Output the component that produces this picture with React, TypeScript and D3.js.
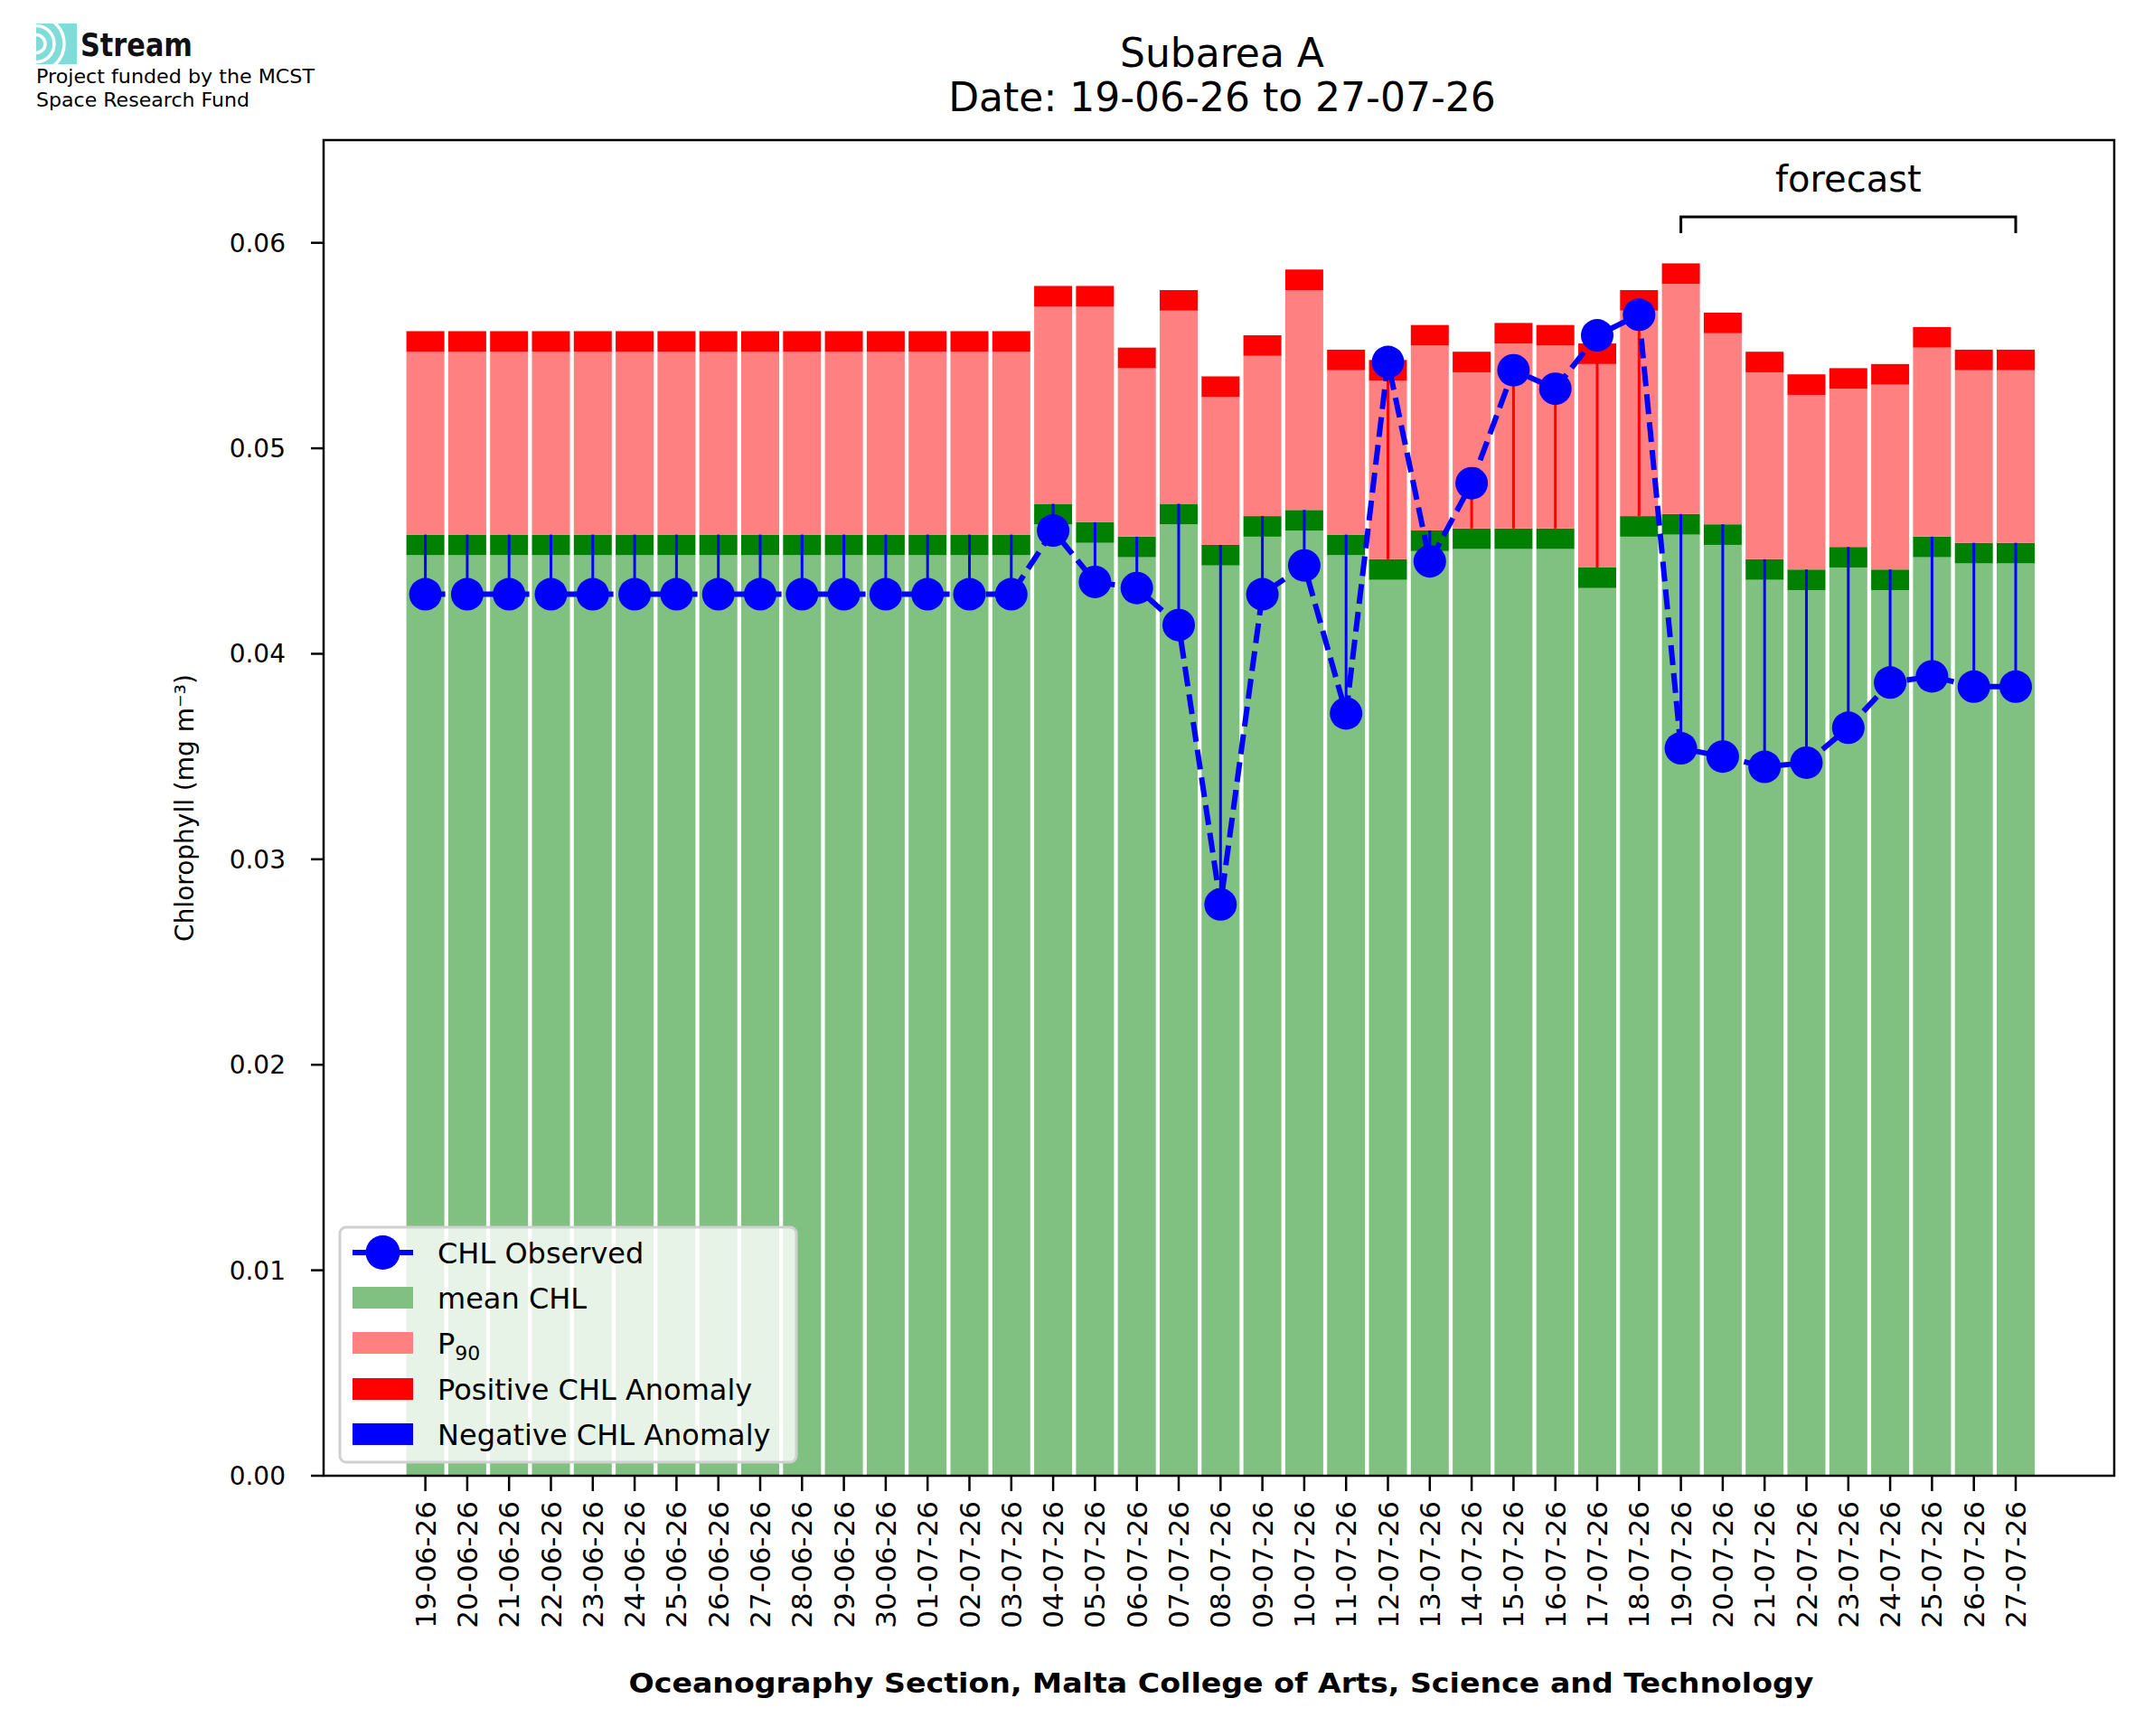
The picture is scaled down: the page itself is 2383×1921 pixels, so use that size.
import React from "react";
import * as d3 from "d3";

const dates = ["19-06-26","20-06-26","21-06-26","22-06-26","23-06-26","24-06-26","25-06-26","26-06-26","27-06-26","28-06-26","29-06-26","30-06-26","01-07-26","02-07-26","03-07-26","04-07-26","05-07-26","06-07-26","07-07-26","08-07-26","09-07-26","10-07-26","11-07-26","12-07-26","13-07-26","14-07-26","15-07-26","16-07-26","17-07-26","18-07-26","19-07-26","20-07-26","21-07-26","22-07-26","23-07-26","24-07-26","25-07-26","26-07-26","27-07-26"];
const meanChl = [0.0458,0.0458,0.0458,0.0458,0.0458,0.0458,0.0458,0.0458,0.0458,0.0458,0.0458,0.0458,0.0458,0.0458,0.0458,0.0473,0.0464,0.0457,0.0473,0.0453,0.0467,0.0470,0.0458,0.0446,0.0460,0.0461,0.0461,0.0461,0.0442,0.0467,0.0468,0.0463,0.0446,0.0441,0.0452,0.0441,0.0457,0.0454,0.0454];
const p90 = [0.0557,0.0557,0.0557,0.0557,0.0557,0.0557,0.0557,0.0557,0.0557,0.0557,0.0557,0.0557,0.0557,0.0557,0.0557,0.0579,0.0579,0.0549,0.0577,0.0535,0.0555,0.0587,0.0548,0.0543,0.0560,0.0547,0.0561,0.0560,0.0551,0.0577,0.0590,0.0566,0.0547,0.0536,0.0539,0.0541,0.0559,0.0548,0.0548];
const observed = [0.0429,0.0429,0.0429,0.0429,0.0429,0.0429,0.0429,0.0429,0.0429,0.0429,0.0429,0.0429,0.0429,0.0429,0.0429,0.0460,0.0435,0.0432,0.0414,0.0278,0.0429,0.0443,0.0371,0.0542,0.0445,0.0483,0.0538,0.0529,0.0555,0.0565,0.0354,0.0350,0.0345,0.0347,0.0364,0.0386,0.0389,0.0384,0.0384];
const yTicks = [0, 0.01, 0.02, 0.03, 0.04, 0.05, 0.06];
const forecastStart = 30;
const BAND = 0.001;

const F = "DejaVu Sans, sans-serif";

export default function App() {
  const L = 358, R = 2339, T = 155, B = 1633;
  const x = d3.scaleLinear().domain([0, dates.length - 1]).range([470.6, 2230]);
  const y = d3.scaleLinear().domain([0, 0.065]).range([B, T]);
  const bw = 42;
  const line = d3.line<number>().x((_, i) => x(i)).y((v) => y(v));
  const legendY = [1386, 1436, 1486, 1537, 1587];
  const legendLabels = ["CHL Observed", "mean CHL", "P90", "Positive CHL Anomaly", "Negative CHL Anomaly"];
  return (
    <svg width={2383} height={1921} style={{ display: "block", position: "absolute", left: 0, top: 0, background: "#fff" }} fontFamily={F}>
      <rect width={2383} height={1921} fill="#fff" />
      <g>
        <rect x={40} y={26} width={45} height={45} fill="#7fdcd8" />
        {[10, 20, 31].map((r, i) => (
          <path key={i} d={`M ${40} ${48.5 - r} A ${r} ${r} 0 0 1 ${40} ${48.5 + r}`} fill="none" stroke="#fff" strokeWidth={3.5} />
        ))}
        <text x={89} y={62} fontSize={36} fontWeight="bold" fill="#111" textLength={124} lengthAdjust="spacingAndGlyphs">Stream</text>
        <text x={40} y={92} fontSize={21} textLength={308} lengthAdjust="spacingAndGlyphs">Project funded by the MCST</text>
        <text x={40} y={118} fontSize={21} textLength={236} lengthAdjust="spacingAndGlyphs">Space Research Fund</text>
      </g>
      <text x={1352} y={74} fontSize={44} textAnchor="middle">Subarea A</text>
      <text x={1352} y={123} fontSize={44} textAnchor="middle">Date: 19-06-26 to 27-07-26</text>
      {dates.map((d, i) => {
        const cx = x(i);
        return (
          <g key={d}>
            <rect x={cx - bw / 2} y={y(meanChl[i] - BAND)} width={bw} height={y(0) - y(meanChl[i] - BAND)} fill="#80c080" />
            <rect x={cx - bw / 2} y={y(meanChl[i])} width={bw} height={y(meanChl[i] - BAND) - y(meanChl[i])} fill="#008000" />
            <rect x={cx - bw / 2} y={y(p90[i] - BAND)} width={bw} height={y(meanChl[i]) - y(p90[i] - BAND)} fill="#ff8080" />
            <rect x={cx - bw / 2} y={y(p90[i])} width={bw} height={y(p90[i] - BAND) - y(p90[i])} fill="#ff0000" />
          </g>
        );
      })}
      {dates.map((d, i) => (
        <line key={d} x1={x(i)} x2={x(i)} y1={y(meanChl[i])} y2={y(observed[i])} stroke={observed[i] > meanChl[i] ? "#ff0000" : "#0000ff"} strokeWidth={3} />
      ))}
      <path d={line(observed) || ""} fill="none" stroke="#0000ff" strokeWidth={6} strokeDasharray="22,9" />
      {observed.map((v, i) => (
        <circle key={i} cx={x(i)} cy={y(v)} r={18} fill="#0000ff" />
      ))}
      <path d={`M ${x(forecastStart)} 258 V 240 H ${x(dates.length - 1)} V 258`} fill="none" stroke="#000" strokeWidth={3} />
      <text x={(x(forecastStart) + x(dates.length - 1)) / 2} y={212} fontSize={40} textAnchor="middle">forecast</text>
      <rect x={L} y={T} width={R - L} height={B - T} fill="none" stroke="#000" strokeWidth={2.5} />
      {yTicks.map((t) => (
        <g key={t}>
          <line x1={L - 14} x2={L} y1={y(t)} y2={y(t)} stroke="#000" strokeWidth={2.5} />
          <text x={L - 42} y={y(t) + 10} fontSize={28} textAnchor="end">{t === 0 ? "0.00" : t.toFixed(2)}</text>
        </g>
      ))}
      {dates.map((d, i) => (
        <g key={d}>
          <line x1={x(i)} x2={x(i)} y1={B} y2={B + 17} stroke="#000" strokeWidth={2.5} />
          <text transform={`translate(${x(i) + 11},${B + 28}) rotate(-90)`} fontSize={31} textAnchor="end">{d}</text>
        </g>
      ))}
      <text transform={`translate(214,${(T + B) / 2}) rotate(-90)`} fontSize={28} textAnchor="middle">Chlorophyll (mg m⁻³)</text>
      <text x={1351} y={1873} fontSize={31} fontWeight="bold" textAnchor="middle" textLength={1311} lengthAdjust="spacingAndGlyphs">Oceanography Section, Malta College of Arts, Science and Technology</text>
      <rect x={376} y={1358} width={505} height={260} rx={7} fill="#fff" fillOpacity={0.8} stroke="#d0d0d0" strokeWidth={3} />
      <line x1={390} x2={457} y1={legendY[0]} y2={legendY[0]} stroke="#0000ff" strokeWidth={6} />
      <circle cx={423.5} cy={legendY[0]} r={19} fill="#0000ff" />
      {["#80c080", "#ff8080", "#ff0000", "#0000ff"].map((c, i) => (
        <rect key={c} x={390} y={legendY[i + 1] - 12} width={67} height={24} fill={c} />
      ))}
      {legendLabels.map((l, i) => (
        <text key={l} x={484} y={legendY[i] + 12} fontSize={32}>
          {l === "P90" ? (<>P<tspan fontSize={22} dy={7}>90</tspan></>) : l}
        </text>
      ))}
    </svg>
  );
}
